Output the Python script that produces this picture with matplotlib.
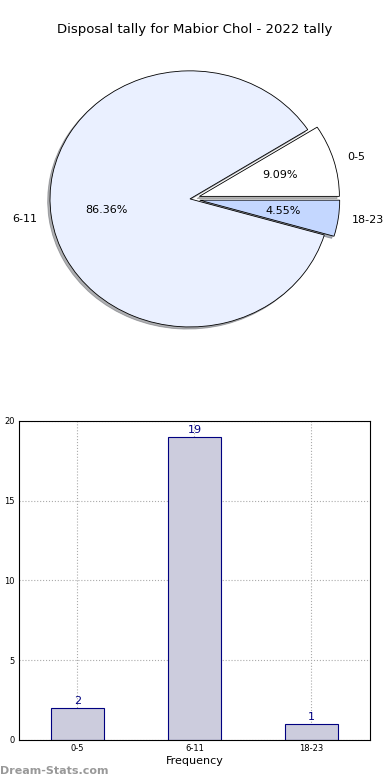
import matplotlib.pyplot as plt

categories = ["0-5", "6-11", "18-23"]
counts = [2, 19, 1]
slice_colors = ["#ffffff", "#eaf0ff", "#c4d7ff"]
explode = [0.07, 0.0, 0.07]
title = "Disposal tally for Mabior Chol - 2022 tally"
ylabel = "Stat Total Tally"

fig = plt.figure(figsize=(3.9, 7.8), dpi=100)
fig.patch.set_facecolor("white")

fig.text(0.5, 1 - 30 / 780, title, ha="center", va="center", fontsize=9.5)

# pie (stretched, not equal aspect)
ax1 = fig.add_axes([0.0564, 0.548, 0.8615, 0.394])
wedges, texts, autotexts = ax1.pie(
    counts, labels=categories, colors=slice_colors, explode=explode,
    autopct="%.2f%%", startangle=0, counterclock=True,
    shadow={"ox": -0.012, "oy": -0.012, "shade": 0.6},
    pctdistance=0.6, labeldistance=1.1,
    wedgeprops=dict(edgecolor="black", linewidth=0.6),
    textprops=dict(fontsize=8))
ax1.set_aspect("auto")
ax1.set_xlim(-1.2, 1.2)
ax1.set_ylim(-1.2, 1.2)
ax1.axis("off")

# bar chart
ax2 = fig.add_axes([0.0487, 0.0513, 0.9, 0.409])
x = range(len(categories))
bars = ax2.bar(x, counts, width=0.45, color="#ccccdd", edgecolor="navy",
               linewidth=0.8, zorder=2)
for xi, v in zip(x, counts):
    ax2.text(xi, v + 0.15, str(v), ha="center", va="bottom", fontsize=8,
             color="navy", zorder=3)
ax2.set_xlim(-0.5, 2.5)
ax2.set_ylim(0, 20)
ax2.set_xticks(list(x))
ax2.set_xticklabels(categories)
ax2.set_yticks([0, 5, 10, 15, 20])
ax2.tick_params(labelsize=6, length=0, pad=3)
ax2.grid(True, linestyle=":", color="#aaaaaa", linewidth=0.8, zorder=0)
ax2.set_axisbelow(True)
ax2.set_xlabel("Frequency", fontsize=8, labelpad=2)
ax2.set_ylabel(ylabel, fontsize=7)
ax2.yaxis.set_label_coords(-0.07, 0.5)

fig.text(0.0, 0.012, "Dream-Stats.com", ha="left", va="center", fontsize=8,
         color="#999999", fontweight="bold")

fig.savefig("out.png", dpi=100)
